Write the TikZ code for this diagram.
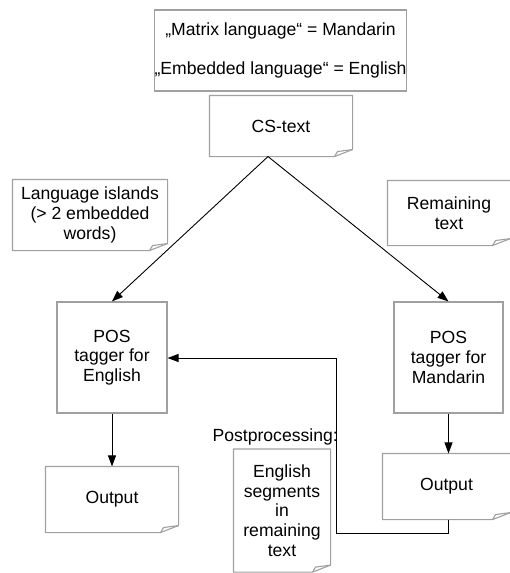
\documentclass[tikz,border=0pt]{standalone}
\usepackage{fontspec}
\setmainfont{Liberation Sans}
\usetikzlibrary{arrows.meta}

\definecolor{boxgray}{RGB}{160,160,160}

\tikzset{
  box/.style={draw=boxgray,line width=1.1pt,align=center,inner sep=0pt,
              font=\fontsize{17.6}{19.6}\selectfont},
  notebox/.style={box,draw=none},
  fold/.style={draw=boxgray,line width=1.1pt,line join=round},
  flow/.style={line width=0.9pt,-{Triangle[length=11pt,width=8pt]}}
}

\begin{document}
\begin{tikzpicture}[x=1pt,y=-1pt]
\useasboundingbox (0,0) rectangle (510,573);

\node[box,minimum width=153pt,minimum height=81pt] (langs) at (280.5,50.5)
  {„Matrix language“ = Mandarin\\[19.6pt]„Embedded language“ = English};
\node[notebox,minimum width=142pt,minimum height=60pt] (cs) at (281,126) {CS-text};
\node[notebox,minimum width=154pt,minimum height=70pt] (islands) at (90,215)
  {Language islands\\(> 2 embedded\\words)};
\node[notebox,minimum width=122pt,minimum height=64pt] (remain) at (449,213)
  {Remaining\\text};
\node[box,minimum width=110pt,minimum height=111pt] (poseng) at (112,357.5)
  {POS\\tagger for\\English};
\node[box,minimum width=109pt,minimum height=111pt] (posman) at (448.5,357.5)
  {POS\\tagger for\\Mandarin};
\node[notebox,minimum width=132pt,minimum height=65pt] (outl) at (112,499.5) {Output};
\node[notebox,minimum width=127pt,minimum height=65pt] (outr) at (446.5,486.5) {Output};
\node[notebox,minimum width=96pt,minimum height=122pt,anchor=north] (seg) at (282,449)
  {English\\segments\\in\\remaining\\text};
\node[font=\fontsize{17.6}{19.6}\selectfont,anchor=east,inner sep=0pt] (post) at (338,437)
  {Postprocessing:};
\coordinate (turn) at (336,358);

% note outlines with folded corner
\foreach \n in {cs,islands,remain,outl,outr,seg}{
  \draw[fold] (\n.north west) -- (\n.north east) -- ([yshift=7pt]\n.south east)
    -- ([xshift=-18pt]\n.south east) -- (\n.south west) -- cycle;
  \draw[fold] ([xshift=-18pt]\n.south east) -- ([xshift=-15pt,yshift=5pt]\n.south east)
    -- ([yshift=7pt]\n.south east);
}

\draw[flow] ([xshift=-13pt]cs.south) -- (poseng.north);
\draw[flow] ([xshift=-13pt]cs.south) -- (posman.north);
\draw[flow] (poseng.south) -- (outl.north);
\draw[flow] (posman.south) -- (posman.south |- outr.north);
\draw[flow] (posman.south |- outr.south) -- ++(0,14) -| (turn) -- (turn -| poseng.east);
\end{tikzpicture}
\end{document}
